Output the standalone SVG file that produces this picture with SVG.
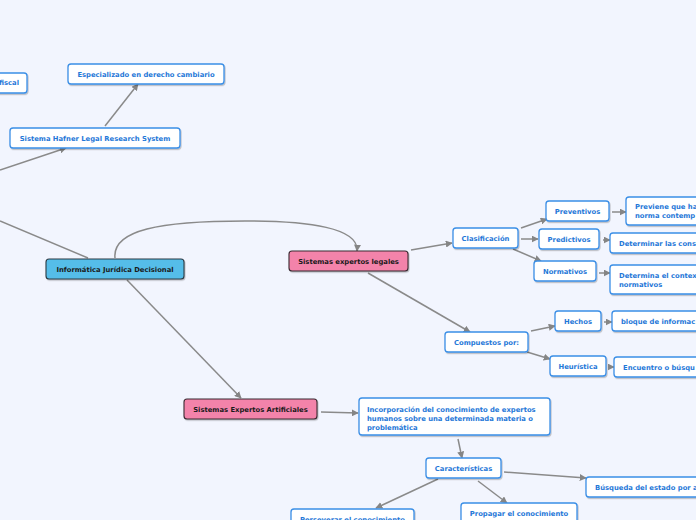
<svg xmlns="http://www.w3.org/2000/svg" width="696" height="520" viewBox="0 0 696 520">
<defs>
<marker id="arr" viewBox="0 0 10 10" refX="9" refY="5" markerWidth="7" markerHeight="7" markerUnits="userSpaceOnUse" orient="auto">
<path d="M0,0 L10,5 L0,10 z" fill="#858585"/>
</marker>
<filter id="sh" x="-10%" y="-20%" width="120%" height="160%">
<feDropShadow dx="0.8" dy="1.2" stdDeviation="0.6" flood-color="#000" flood-opacity="0.25"/>
</filter>
</defs>
<style>
.bg{fill:#f2f5fe}
.c{fill:none;stroke:#8a8a8a;stroke-width:1.5}
.a{marker-end:url(#arr)}
.n{fill:#ffffff;stroke:#3a8ee6;stroke-width:1.3;filter:url(#sh)}
.p{fill:#f383aa;stroke:#3a2a30;stroke-width:1.1;filter:url(#sh)}
.b{fill:#55bde9;stroke:#2c3a44;stroke-width:1.1;filter:url(#sh)}
text{font-family:"DejaVu Sans","Verdana",sans-serif;font-weight:bold;font-size:6.8px}
.t{fill:#1f78d8}
.k{fill:#1a1a1a}
.m{text-anchor:middle}
</style>
<rect class="bg" x="0" y="0" width="696" height="520"/>
<g id="connectors">
<path class="c a" d="M0,170 L66,148"/>
<path class="c a" d="M105,126 L138,84"/>
<path class="c" d="M0,221 L88,258"/>
<path class="c a" d="M115,258 C112,230 160,221 245,221 C310,221 359,228 357,251"/>
<path class="c a" d="M127,280 L241,398"/>
<path class="c a" d="M411,250 L452,243"/>
<path class="c a" d="M368,273 L470,332"/>
<path class="c a" d="M521,228 L547,219"/>
<path class="c a" d="M521,239 L538,239"/>
<path class="c a" d="M513,249 L541,261"/>
<path class="c a" d="M612,212 L626,212"/>
<path class="c a" d="M603,240 L610,240"/>
<path class="c a" d="M599,273 L610,273"/>
<path class="c a" d="M531,331 L555,326"/>
<path class="c a" d="M527,352 L550,359"/>
<path class="c a" d="M604,322 L612,322"/>
<path class="c a" d="M609,367 L614,367"/>
<path class="c a" d="M321,412 L358,413"/>
<path class="c a" d="M458,439 L462,458"/>
<path class="c a" d="M504,472 L586,478"/>
<path class="c a" d="M478,481 L507,503"/>
<path class="c a" d="M438,479 L376,508"/>
</g>
<g id="n-fiscal"><rect class="n" x="-40" y="73" width="67" height="20" rx="3"/><text class="t" x="19" y="85" text-anchor="end">fiscal</text></g>
<g id="n-especializado"><rect class="n" x="68" y="64" width="156" height="20" rx="3"/><text class="t m" x="146" y="76.5">Especializado en derecho cambiario</text></g>
<g id="n-hafner"><rect class="n" x="10" y="128" width="170" height="20" rx="3"/><text class="t m" x="95" y="140.5">Sistema Hafner Legal Research System</text></g>
<g id="n-informatica"><rect class="b" x="46" y="259" width="138" height="20" rx="3"/><text class="k m" x="115" y="271.5">Informática Jurídica Decisional</text></g>
<g id="n-sel"><rect class="p" x="289" y="251" width="119" height="20" rx="3"/><text class="k m" x="348.5" y="263.5">Sistemas expertos legales</text></g>
<g id="n-clasificacion"><rect class="n" x="453" y="228" width="65" height="20" rx="3"/><text class="t m" x="485.5" y="240.5">Clasificación</text></g>
<g id="n-preventivos"><rect class="n" x="546" y="201" width="63" height="20" rx="3"/><text class="t m" x="577.5" y="213.5">Preventivos</text></g>
<g id="n-previene"><rect class="n" x="626" y="197" width="100" height="28" rx="3"/><text class="t" x="635" y="209">Previene que ha</text><text class="t" x="635" y="218">norma contemp</text></g>
<g id="n-predictivos"><rect class="n" x="539" y="229" width="60" height="20" rx="3"/><text class="t m" x="569" y="241.5">Predictivos</text></g>
<g id="n-determinar"><rect class="n" x="610" y="233" width="110" height="20" rx="3"/><text class="t" x="619" y="245.5">Determinar las cons</text></g>
<g id="n-normativos"><rect class="n" x="534" y="261" width="62" height="20" rx="3"/><text class="t m" x="565" y="273.5">Normativos</text></g>
<g id="n-determina"><rect class="n" x="610" y="265" width="110" height="29" rx="3"/><text class="t" x="619" y="277.5">Determina el contex</text><text class="t" x="619" y="286.5">normativos</text></g>
<g id="n-compuestos"><rect class="n" x="445" y="332" width="83" height="20" rx="3"/><text class="t m" x="486.5" y="344.5">Compuestos por:</text></g>
<g id="n-hechos"><rect class="n" x="555" y="311" width="46" height="20" rx="3"/><text class="t m" x="578" y="323.5">Hechos</text></g>
<g id="n-bloque"><rect class="n" x="612" y="311" width="110" height="20" rx="3"/><text class="t" x="621" y="323.5">bloque de informac</text></g>
<g id="n-heuristica"><rect class="n" x="550" y="356" width="56" height="20" rx="3"/><text class="t m" x="578" y="368.5">Heurística</text></g>
<g id="n-encuentro"><rect class="n" x="614" y="357" width="110" height="20" rx="3"/><text class="t" x="623" y="369.5">Encuentro o búsqu</text></g>
<g id="n-sea"><rect class="p" x="184" y="399" width="133" height="20" rx="3"/><text class="k m" x="250.5" y="411.5">Sistemas Expertos Artificiales</text></g>
<g id="n-incorporacion"><rect class="n" x="359" y="398" width="191" height="37" rx="3"/><text class="t" x="367" y="411.5">Incorporación del conocimiento de expertos</text><text class="t" x="367" y="420.5">humanos sobre una determinada materia o</text><text class="t" x="367" y="429.5">problemática</text></g>
<g id="n-caracteristicas"><rect class="n" x="426" y="458" width="75" height="20" rx="3"/><text class="t m" x="463.5" y="470.5">Características</text></g>
<g id="n-busqueda"><rect class="n" x="586" y="477" width="140" height="20" rx="3"/><text class="t" x="595" y="489.5">Búsqueda del estado por a</text></g>
<g id="n-propagar"><rect class="n" x="461" y="503" width="116" height="20" rx="3"/><text class="t m" x="519" y="516">Propagar el conocimiento</text></g>
<g id="n-perseverar"><rect class="n" x="291" y="509" width="123" height="20" rx="3"/><text class="t m" x="352.5" y="522">Perseverar el conocimiento</text></g>
</svg>
